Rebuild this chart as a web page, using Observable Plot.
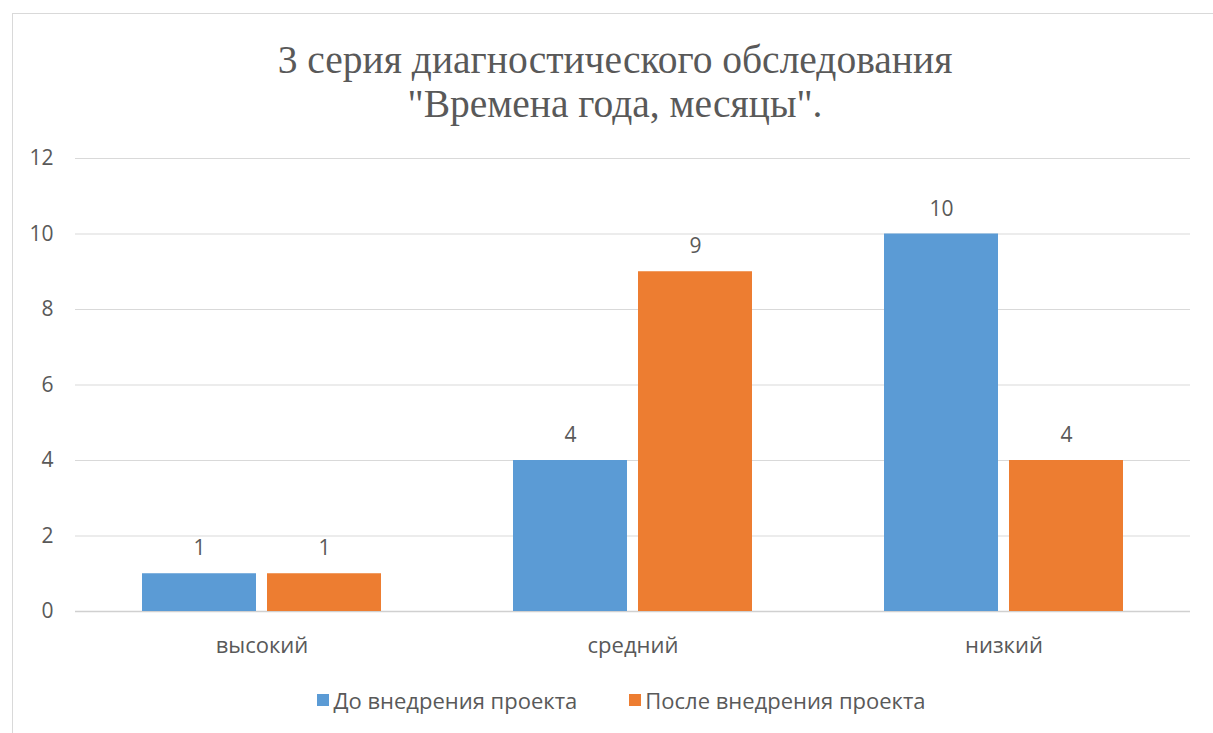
<!DOCTYPE html>
<html>
<head>
<meta charset="utf-8">
<script src="https://cdn.jsdelivr.net/npm/d3@7"></script>
<script src="https://cdn.jsdelivr.net/npm/@observablehq/plot@0.6"></script>
<style>
  html, body { margin: 0; padding: 0; background: #fff; }
  body { width: 1213px; height: 733px; overflow: hidden; position: relative; }
  #frame { position: absolute; left: 12px; top: 13px; width: 1230px; height: 760px; border: 1.5px solid #d9d9d9; box-sizing: border-box; }
  #title { position: absolute; left: 0; top: 38px; width: 1230px; text-align: center; font-family: "Liberation Serif", "Times New Roman", serif; font-size: 39.5px; line-height: 44px; color: #595959; }
  #chart { position: absolute; left: 0; top: 135px; }
  #legend { position: absolute; left: 0; top: 685px; width: 1213px; display: flex; justify-content: center; font-family: "Open Sans", sans-serif; font-size: 22px; line-height: 30px; color: #595959; padding-left: 30px; box-sizing: border-box; }
  .item { display: flex; align-items: center; margin: 0 26px; }
  .sw { width: 12px; height: 12px; margin-right: 4px; }
</style>
</head>
<body>
<div id="frame"></div>
<div id="title">3 серия диагностического обследования<br>"Времена года, месяцы".</div>
<div id="chart"></div>
<div id="legend"></div>
<script>
const categories = ["высокий", "средний", "низкий"];
const seriesNames = ["До внедрения проекта", "После внедрения проекта"];
const before = [1, 4, 10];
const after = [1, 9, 4];
const yTicks = [0, 2, 4, 6, 8, 10, 12];
const colors = ["#5B9BD5", "#ED7D31"];

const data = [];
categories.forEach((c, i) => {
  data.push({category: c, series: seriesNames[0], value: before[i]});
  data.push({category: c, series: seriesNames[1], value: after[i]});
});
const d0 = data.filter(d => d.series === seriesNames[0]);
const d1 = data.filter(d => d.series === seriesNames[1]);

const txt = "#595959";
const plot = Plot.plot({
  width: 1213,
  height: 540,
  marginLeft: 75,
  marginRight: 23,
  marginTop: 23,
  marginBottom: 64,
  style: {fontFamily: "'Open Sans', sans-serif", fontSize: "21px", color: txt, background: "transparent"},
  x: {domain: categories, paddingInner: 0.355, paddingOuter: 0.1775, label: null},
  y: {domain: [0, 12], label: null},
  marks: [
    Plot.ruleY(yTicks.filter(t => t > 0), {stroke: "#d9d9d9", strokeWidth: 1}),
    Plot.ruleY([0], {stroke: "#d0d0d0", strokeWidth: 1.5}),
    Plot.axisY({ticks: yTicks, tickSize: 0, tickPadding: 22, fontSize: 21, fill: txt, label: null}),
    Plot.axisX({tickSize: 0, tickPadding: 26, fontSize: 22, fill: txt, label: null}),
    Plot.barY(d0, {x: "category", y: "value", fill: colors[0], insetRight: 125}),
    Plot.barY(d1, {x: "category", y: "value", fill: colors[1], insetLeft: 125}),
    Plot.text(d0, {x: "category", y: "value", text: d => String(d.value), dx: -62.5, dy: -25, fill: txt, fontSize: 21}),
    Plot.text(d1, {x: "category", y: "value", text: d => String(d.value), dx: 62.5, dy: -25, fill: txt, fontSize: 21})
  ]
});
document.getElementById("chart").appendChild(plot);

const legend = document.getElementById("legend");
seriesNames.forEach((s, i) => {
  const it = document.createElement("div");
  it.className = "item";
  const sw = document.createElement("span");
  sw.className = "sw";
  sw.style.background = colors[i];
  const t = document.createElement("span");
  t.textContent = s;
  it.appendChild(sw);
  it.appendChild(t);
  legend.appendChild(it);
});
</script>
</body>
</html>
